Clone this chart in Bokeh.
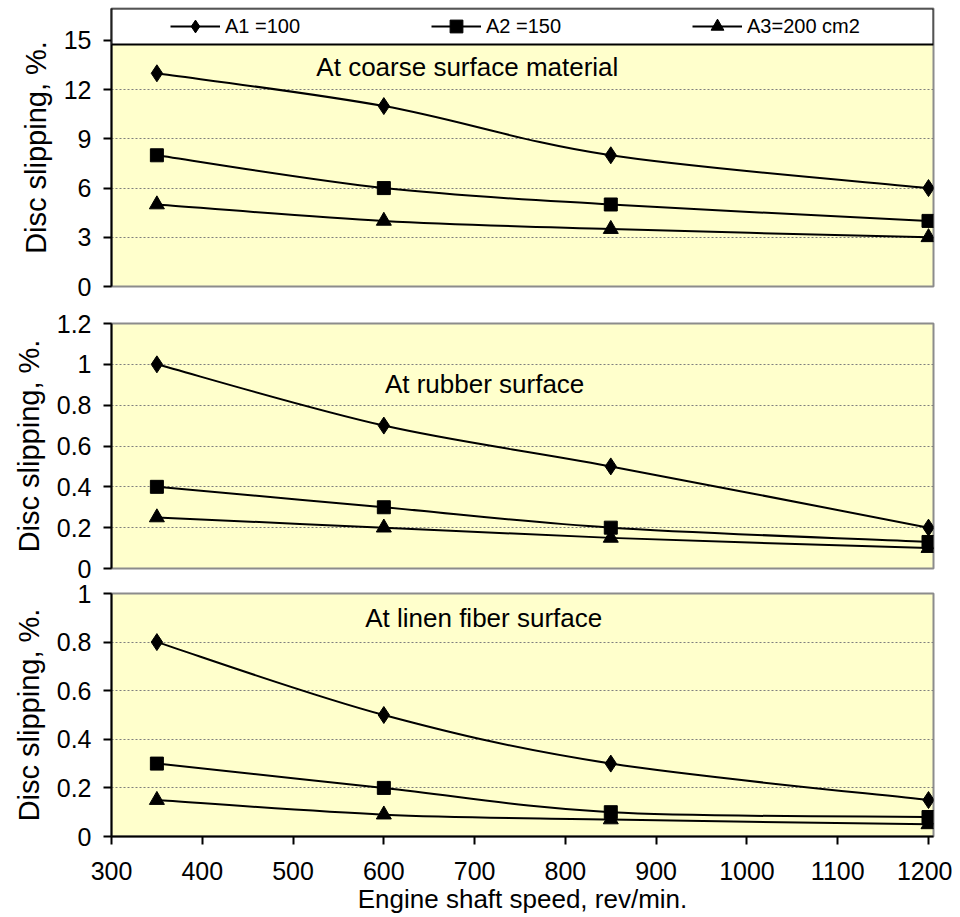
from bokeh.plotting import figure
from bokeh.layouts import column
from bokeh.models import (FixedTicker, Legend, LegendItem, BoxAnnotation, Label,
                          Range1d, ColumnDataSource)
from bokeh.embed import file_html
from bokeh.resources import INLINE

# ---------------- data ----------------
speed = [350, 600, 850, 1200]

coarse_a1 = [13, 11, 8, 6]
coarse_a2 = [8, 6, 5, 4]
coarse_a3 = [5, 4, 3.5, 3]

rubber_a1 = [1.0, 0.7, 0.5, 0.2]
rubber_a2 = [0.4, 0.3, 0.2, 0.13]
rubber_a3 = [0.25, 0.2, 0.15, 0.1]

linen_a1 = [0.8, 0.5, 0.3, 0.15]
linen_a2 = [0.3, 0.2, 0.1, 0.08]
linen_a3 = [0.15, 0.09, 0.07, 0.05]

series_labels = ["A1 =100", "A2 =150", "A3=200 cm2"]
series_markers = ["diamond", "square", "triangle"]

x_ticks = [300, 400, 500, 600, 700, 800, 900, 1000, 1100, 1200]
coarse_ticks = [0, 3, 6, 9, 12, 15]
rubber_ticks = [0, 0.2, 0.4, 0.6, 0.8, 1, 1.2]
rubber_tick_labels = ["0", "0.2", "0.4", "0.6", "0.8", "1", "1.2"]
linen_ticks = [0, 0.2, 0.4, 0.6, 0.8, 1]
linen_tick_labels = ["0", "0.2", "0.4", "0.6", "0.8", "1"]

titles = ["At coarse surface material", "At rubber surface", "At linen fiber surface"]
y_title = "Disc slipping, %."
x_title = "Engine shaft speed, rev/min."

FONT = "Liberation Sans"
BG = "#FFFFCC"
MARKER_SIZE = {"diamond": 17, "square": 13, "triangle": 15}


def smooth_source(xs, ys):
    """Cubic Bezier segments through the data points (Excel-like smoothing)."""
    n = len(xs)
    d = dict(x0=[], y0=[], x1=[], y1=[], cx0=[], cy0=[], cx1=[], cy1=[])
    for i in range(n - 1):
        a = max(i - 1, 0)
        b = min(i + 2, n - 1)
        d["x0"].append(xs[i]); d["y0"].append(ys[i])
        d["x1"].append(xs[i + 1]); d["y1"].append(ys[i + 1])
        d["cx0"].append(xs[i] + (xs[i + 1] - xs[a]) / 6.0)
        d["cy0"].append(ys[i] + (ys[i + 1] - ys[a]) / 6.0)
        d["cx1"].append(xs[i + 1] - (xs[b] - xs[i]) / 6.0)
        d["cy1"].append(ys[i + 1] - (ys[b] - ys[i]) / 6.0)
    return ColumnDataSource(d)


def make_panel(series, ticks, tick_labels, y_end, height, b_top, b_bottom,
               show_x, title, title_xy, margin_top):
    p = figure(width=952, height=height, output_backend="svg", toolbar_location=None,
               x_range=Range1d(300, 1205.5), y_range=Range1d(0, y_end),
               min_border_left=111, min_border_right=19,
               min_border_top=b_top, min_border_bottom=b_bottom,
               background_fill_color=BG, border_fill_color="white", border_fill_alpha=0,
               outline_line_color="#8c8c8c", outline_line_width=2,
               x_axis_location="below" if show_x else None,
               margin=(margin_top, 0, 0, 0))
    p.xgrid.grid_line_color = None
    p.ygrid.grid_line_color = "#7f7f7f"
    p.ygrid.grid_line_dash = "2 2"
    p.ygrid.grid_line_width = 1

    ya = p.yaxis[0]
    ya.ticker = FixedTicker(ticks=ticks)
    if tick_labels is not None:
        ya.major_label_overrides = dict(zip(ticks, tick_labels))
    ya.axis_line_color = "black"
    ya.axis_line_width = 2
    ya.major_tick_line_width = 2
    ya.major_tick_out = 8
    ya.major_tick_in = 0
    ya.minor_tick_line_color = None
    ya.major_label_text_font = FONT
    ya.major_label_text_font_size = "25px"
    ya.major_label_text_color = "black"
    ya.major_label_standoff = 12
    ya.axis_label = y_title
    ya.axis_label_text_font = FONT
    ya.axis_label_text_font_size = "29px"
    ya.axis_label_text_font_style = "normal"
    ya.axis_label_text_color = "black"
    ya.axis_label_standoff = 9

    if show_x:
        xa = p.xaxis[0]
        xa.ticker = FixedTicker(ticks=x_ticks)
        xa.axis_line_color = "black"
        xa.axis_line_width = 2
        xa.major_tick_line_width = 2
        xa.major_tick_out = 8
        xa.major_tick_in = 0
        xa.minor_tick_line_color = None
        xa.major_label_text_font = FONT
        xa.major_label_text_font_size = "25px"
        xa.major_label_text_color = "black"
        xa.major_label_standoff = 17
        xa.axis_label = x_title
        xa.axis_label_text_font = FONT
        xa.axis_label_text_font_size = "26px"
        xa.axis_label_text_font_style = "normal"
        xa.axis_label_text_color = "black"
        xa.axis_label_standoff = 1

    renderers = []
    for ys, mk in zip(series, series_markers):
        src = smooth_source(speed, ys)
        br = p.bezier(x0="x0", y0="y0", x1="x1", y1="y1", cx0="cx0", cy0="cy0",
                      cx1="cx1", cy1="cy1", source=src, line_color="black", line_width=2)
        sr = p.scatter(speed, ys, marker=mk, size=MARKER_SIZE[mk], fill_color="black",
                       line_color="black")
        renderers.append((br, sr))

    p.add_layout(Label(x=title_xy[0], y=title_xy[1], text=title, text_font=FONT,
                       text_font_size="26px", text_color="black", text_align="center",
                       text_baseline="middle"))
    return p, renderers


p1, r1 = make_panel([coarse_a1, coarse_a2, coarse_a3], coarse_ticks, None, 16.95,
                    310, 8, 24, False, titles[0], (692, 13.4), 0)
p2, _ = make_panel([rubber_a1, rubber_a2, rubber_a3], rubber_ticks, rubber_tick_labels,
                   1.2, 293, 24, 24, False, titles[1], (711, 0.906), -11)
p3, _ = make_panel([linen_a1, linen_a2, linen_a3], linen_ticks, linen_tick_labels,
                   1.0, 348, 21, 84, True, titles[2], (710, 0.901), -20)

# legend box across the top of the first panel
p1.add_layout(BoxAnnotation(bottom=14.756, fill_color="white", fill_alpha=1.0,
                            line_color="black", line_width=2, line_alpha=1.0))
legend = Legend(items=[LegendItem(label=lab, renderers=list(rr))
                       for lab, rr in zip(series_labels, r1)],
                orientation="horizontal", location=(59, 244),
                padding=0, margin=0, spacing=86,
                glyph_width=50, glyph_height=32, label_width=120, label_height=32,
                label_standoff=5, label_text_font=FONT, label_text_font_size="20px",
                label_text_color="black",
                border_line_alpha=0, background_fill_alpha=0)
p1.add_layout(legend)

layout = column(p1, p2, p3, spacing=0)
open("out.html", "w").write(file_html(layout, INLINE))
